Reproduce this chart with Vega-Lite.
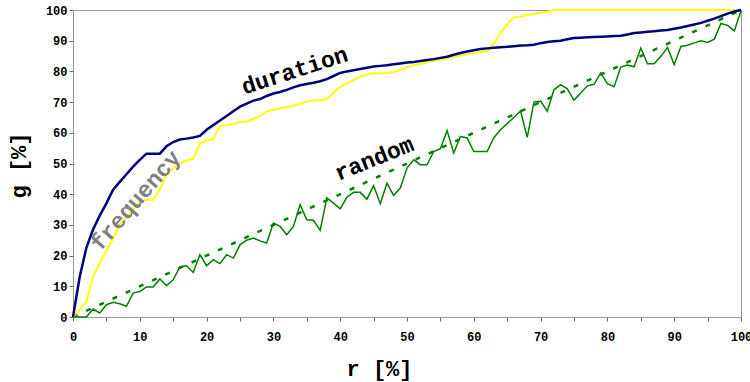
{
  "$schema": "https://vega.github.io/schema/vega-lite/v6.json",
  "autosize": "none",
  "width": 668,
  "height": 307,
  "padding": {"left": 73, "top": 10, "right": 9, "bottom": 65},
  "background": "white",
  "config": {"view": {"stroke": "#999999", "strokeWidth": 1}, "font": "Liberation Mono"},
  "datasets": {
    "curves": [
      {"r": 0, "duration": 0, "frequency": 0, "random": 0},
      {"r": 1, "duration": 13, "frequency": 2.5, "random": 0},
      {"r": 2, "duration": 22.5, "frequency": 5, "random": 0},
      {"r": 3, "duration": 28.5, "frequency": 13, "random": 2.6},
      {"r": 4, "duration": 33, "frequency": 17.5, "random": 1.3},
      {"r": 5, "duration": 37, "frequency": 21.5, "random": 4},
      {"r": 6, "duration": 41.5, "frequency": 25.5, "random": 4.8},
      {"r": 7, "duration": 44, "frequency": 30, "random": 4.3},
      {"r": 8, "duration": 46.5, "frequency": 32.5, "random": 3.5},
      {"r": 9, "duration": 49, "frequency": 35, "random": 7.8},
      {"r": 10, "duration": 51.2, "frequency": 37.5, "random": 8.3},
      {"r": 11, "duration": 53.2, "frequency": 38.2, "random": 9.8},
      {"r": 12, "duration": 53.2, "frequency": 38.2, "random": 9.8},
      {"r": 13, "duration": 53.2, "frequency": 41.5, "random": 12.4},
      {"r": 14, "duration": 55.6, "frequency": 46.5, "random": 10.2},
      {"r": 15, "duration": 57, "frequency": 48.5, "random": 12.1},
      {"r": 16, "duration": 57.8, "frequency": 50, "random": 16.3},
      {"r": 17, "duration": 58.1, "frequency": 51, "random": 16.7},
      {"r": 18, "duration": 58.5, "frequency": 51.5, "random": 14.5},
      {"r": 19, "duration": 59, "frequency": 56.5, "random": 20.3},
      {"r": 20, "duration": 61, "frequency": 57.5, "random": 16.7},
      {"r": 21, "duration": 62.5, "frequency": 58, "random": 18.7},
      {"r": 22, "duration": 64, "frequency": 62.3, "random": 17.4},
      {"r": 23, "duration": 65.5, "frequency": 62.5, "random": 20.3},
      {"r": 24, "duration": 67, "frequency": 62.8, "random": 19.2},
      {"r": 25, "duration": 68.5, "frequency": 63.5, "random": 23.5},
      {"r": 26, "duration": 69.5, "frequency": 63.7, "random": 25},
      {"r": 27, "duration": 70.5, "frequency": 64.5, "random": 25.7},
      {"r": 28, "duration": 71, "frequency": 65.5, "random": 24.8},
      {"r": 29, "duration": 72, "frequency": 67, "random": 24.1},
      {"r": 30, "duration": 72.8, "frequency": 67.5, "random": 30.6},
      {"r": 31, "duration": 73.3, "frequency": 68, "random": 29.5},
      {"r": 32, "duration": 74, "frequency": 68.4, "random": 26.8},
      {"r": 33, "duration": 74.8, "frequency": 68.8, "random": 29.5},
      {"r": 34, "duration": 75.5, "frequency": 69.5, "random": 36.6},
      {"r": 35, "duration": 75.9, "frequency": 70.2, "random": 31.7},
      {"r": 36, "duration": 76.3, "frequency": 70.5, "random": 31.5},
      {"r": 37, "duration": 76.8, "frequency": 70.7, "random": 28.2},
      {"r": 38, "duration": 77.5, "frequency": 71, "random": 38.8},
      {"r": 39, "duration": 78.5, "frequency": 73, "random": 37.1},
      {"r": 40, "duration": 79.5, "frequency": 75, "random": 35.2},
      {"r": 41, "duration": 80, "frequency": 76.2, "random": 39},
      {"r": 42, "duration": 80.4, "frequency": 77.2, "random": 40.6},
      {"r": 43, "duration": 80.8, "frequency": 78.4, "random": 40.6},
      {"r": 44, "duration": 81.2, "frequency": 79, "random": 38.4},
      {"r": 45, "duration": 81.6, "frequency": 79.3, "random": 42.8},
      {"r": 46, "duration": 81.8, "frequency": 79.4, "random": 36.9},
      {"r": 47, "duration": 82, "frequency": 79.5, "random": 43.6},
      {"r": 48, "duration": 82.3, "frequency": 79.7, "random": 39.6},
      {"r": 49, "duration": 82.6, "frequency": 80.5, "random": 42},
      {"r": 50, "duration": 82.9, "frequency": 81.3, "random": 48.5},
      {"r": 51, "duration": 83.1, "frequency": 82, "random": 51.2},
      {"r": 52, "duration": 83.4, "frequency": 82.5, "random": 49.6},
      {"r": 53, "duration": 83.7, "frequency": 83, "random": 49.6},
      {"r": 54, "duration": 84, "frequency": 83.4, "random": 53.9},
      {"r": 55, "duration": 84.4, "frequency": 83.8, "random": 54.8},
      {"r": 56, "duration": 84.8, "frequency": 84.3, "random": 60.7},
      {"r": 57, "duration": 85.4, "frequency": 84.8, "random": 53.4},
      {"r": 58, "duration": 86, "frequency": 85.2, "random": 58.8},
      {"r": 59, "duration": 86.5, "frequency": 85.6, "random": 58.3},
      {"r": 60, "duration": 86.9, "frequency": 86, "random": 53.9},
      {"r": 61, "duration": 87.3, "frequency": 86.3, "random": 53.9},
      {"r": 62, "duration": 87.5, "frequency": 86.7, "random": 53.9},
      {"r": 63, "duration": 87.7, "frequency": 89, "random": 58.4},
      {"r": 64, "duration": 87.9, "frequency": 92.5, "random": 61},
      {"r": 65, "duration": 88, "frequency": 95.5, "random": 63},
      {"r": 66, "duration": 88.2, "frequency": 97.6, "random": 65},
      {"r": 67, "duration": 88.4, "frequency": 97.9, "random": 67.1},
      {"r": 68, "duration": 88.5, "frequency": 98.4, "random": 58.5},
      {"r": 69, "duration": 88.7, "frequency": 98.7, "random": 70},
      {"r": 70, "duration": 89.2, "frequency": 99, "random": 70.3},
      {"r": 71, "duration": 89.6, "frequency": 99.4, "random": 67},
      {"r": 72, "duration": 89.8, "frequency": 100, "random": 74},
      {"r": 73, "duration": 90, "frequency": 100, "random": 75.7},
      {"r": 74, "duration": 90.5, "frequency": 100, "random": 74.3},
      {"r": 75, "duration": 90.9, "frequency": 100, "random": 70.6},
      {"r": 76, "duration": 91, "frequency": 100, "random": 73},
      {"r": 77, "duration": 91.1, "frequency": 100, "random": 75.3},
      {"r": 78, "duration": 91.2, "frequency": 100, "random": 75.8},
      {"r": 79, "duration": 91.3, "frequency": 100, "random": 79.5},
      {"r": 80, "duration": 91.4, "frequency": 100, "random": 76},
      {"r": 81, "duration": 91.5, "frequency": 100, "random": 75},
      {"r": 82, "duration": 91.6, "frequency": 100, "random": 81.4},
      {"r": 83, "duration": 92, "frequency": 100, "random": 82.1},
      {"r": 84, "duration": 92.5, "frequency": 100, "random": 81.5},
      {"r": 85, "duration": 92.7, "frequency": 100, "random": 87.6},
      {"r": 86, "duration": 92.9, "frequency": 100, "random": 82.5},
      {"r": 87, "duration": 93.1, "frequency": 100, "random": 82.5},
      {"r": 88, "duration": 93.3, "frequency": 100, "random": 84.9},
      {"r": 89, "duration": 93.5, "frequency": 100, "random": 87.8},
      {"r": 90, "duration": 93.9, "frequency": 100, "random": 82.2},
      {"r": 91, "duration": 94.3, "frequency": 100, "random": 88.1},
      {"r": 92, "duration": 94.8, "frequency": 100, "random": 88.5},
      {"r": 93, "duration": 95.3, "frequency": 100, "random": 89.3},
      {"r": 94, "duration": 95.8, "frequency": 100, "random": 90},
      {"r": 95, "duration": 96.5, "frequency": 100, "random": 89.4},
      {"r": 96, "duration": 97.2, "frequency": 100, "random": 90.5},
      {"r": 97, "duration": 98, "frequency": 100, "random": 95.6},
      {"r": 98, "duration": 98.8, "frequency": 100, "random": 95},
      {"r": 99, "duration": 99.5, "frequency": 100, "random": 93.2},
      {"r": 100, "duration": 100, "frequency": 100, "random": 99.8}
    ]
  },
  "encoding": {
    "x": {
      "field": "r", "type": "quantitative",
      "scale": {"domain": [0, 100], "nice": false, "zero": false},
      "axis": {
        "title": "r [%]",
        "values": [0, 5, 10, 15, 20, 25, 30, 35, 40, 45, 50, 55, 60, 65, 70, 75, 80, 85, 90, 95, 100],
        "labelExpr": "datum.value % 10 === 0 ? datum.label : ''",
        "grid": false, "domainColor": "#999999", "tickColor": "#666666", "tickSize": 4,
        "labelFont": "Liberation Mono", "labelFontWeight": "bold", "labelFontSize": 12, "labelColor": "black",
        "labelPadding": 10, "labelFlush": false, "labelOverlap": false, "labelBound": false,
        "titleFont": "Liberation Mono", "titleFontSize": 22, "titleFontWeight": "bold", "titleColor": "black",
        "titleX": 306, "titleY": 51, "titleAlign": "center", "titleBaseline": "middle"
      }
    },
    "y": {
      "field": "g", "type": "quantitative",
      "scale": {"domain": [0, 100], "nice": false},
      "axis": {
        "title": "g [%]",
        "values": [0, 10, 20, 30, 40, 50, 60, 70, 80, 90, 100],
        "grid": false, "domainColor": "#999999", "tickColor": "#666666", "tickSize": 4,
        "labelFont": "Liberation Mono", "labelFontWeight": "bold", "labelFontSize": 12, "labelColor": "black",
        "labelPadding": 2, "labelFlush": false, "labelOverlap": false, "labelBound": false,
        "titleFont": "Liberation Mono", "titleFontSize": 22, "titleFontWeight": "bold", "titleColor": "black",
        "titleX": -55, "titleY": 155, "titleAlign": "center", "titleBaseline": "middle", "titleAngle": -90
      }
    }
  },
  "layer": [
    {
      "data": {"values": [{"r": 0, "g": 0}, {"r": 100, "g": 100}]},
      "mark": {"type": "line", "color": "#008000", "strokeWidth": 2.5, "strokeDash": [5, 9.5]}
    },
    {
      "data": {"name": "curves"},
      "transform": [{"fold": ["random", "frequency", "duration"], "as": ["series", "g"]}],
      "mark": {"type": "line"},
      "encoding": {
        "color": {"field": "series", "type": "nominal", "scale": {"domain": ["random", "frequency", "duration"], "range": ["#008000", "#ffff00", "#000080"]}, "legend": null},
        "strokeWidth": {"field": "series", "type": "nominal", "scale": {"domain": ["random", "frequency", "duration"], "range": [1.5, 2.5, 2.5]}, "legend": null}
      }
    },
    {
      "data": {"values": [{"r": 33.2, "g": 80.2, "label": "duration"}]},
      "mark": {"type": "text", "angle": -18, "font": "Liberation Mono", "fontSize": 23, "fontWeight": "bold", "color": "black", "align": "center", "baseline": "middle"},
      "encoding": {"text": {"field": "label"}}
    },
    {
      "data": {"values": [{"r": 45.1, "g": 51.5, "label": "random"}]},
      "mark": {"type": "text", "angle": -22, "font": "Liberation Mono", "fontSize": 23, "fontWeight": "bold", "color": "black", "align": "center", "baseline": "middle"},
      "encoding": {"text": {"field": "label"}}
    },
    {
      "data": {"values": [{"r": 9.4, "g": 37.9, "label": "frequency"}]},
      "mark": {"type": "text", "angle": -49, "font": "Liberation Mono", "fontSize": 23, "fontWeight": "bold", "color": "#808080", "align": "center", "baseline": "middle"},
      "encoding": {"text": {"field": "label"}}
    }
  ]
}
